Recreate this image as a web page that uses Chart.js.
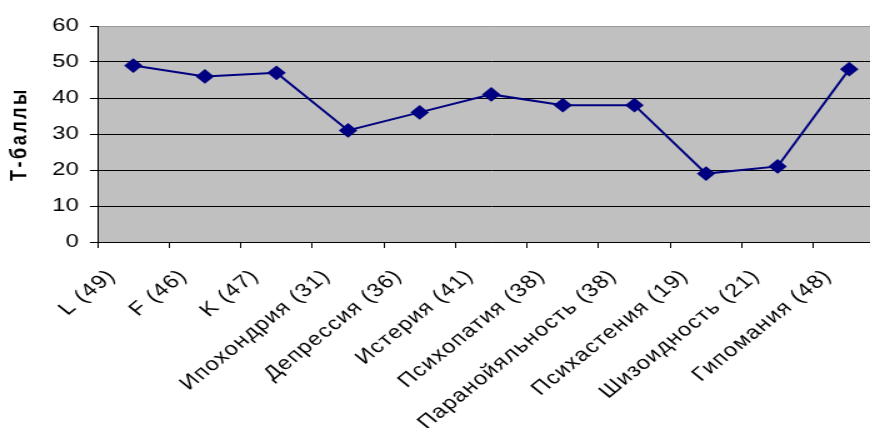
<!DOCTYPE html>
<html>
<head>
<meta charset="utf-8">
<script src="https://cdn.jsdelivr.net/npm/chart.js@4"></script>
<style>
  html, body { margin: 0; padding: 0; background: #fff; overflow: hidden; }
  #wrap { width: 870px; height: 428px; overflow: hidden; }
  /* the original picture is an Excel chart stretched horizontally */
  #chart { display: block; transform: scaleX(1.25); transform-origin: 0 0; }
</style>
</head>
<body>
<div id="wrap"><canvas id="chart" width="716" height="428"></canvas></div>
<script>
// MMPI profile, T-scores
const categories = [
  "L (49)", "F (46)", "K (47)", "Ипохондрия (31)", "Депрессия (36)",
  "Истерия (41)", "Психопатия (38)", "Паранойяльность (38)",
  "Психастения (19)", "Шизоидность (21)", "Гипомания (48)"
];
const tScores = [49, 46, 47, 31, 36, 41, 38, 38, 19, 21, 48];
const yTicks = [0, 10, 20, 30, 40, 50, 60];

const FONT = "Liberation Sans, Arial, sans-serif";

const canvas = document.getElementById("chart");
const context = canvas.getContext("2d");

// a bit of extra letter spacing for the labels and the axis title
const plainFillText = context.fillText;
context.fillText = function (text, x, y, maxWidth) {
  const old = this.letterSpacing;
  if (this.font.indexOf("bold") !== -1) this.letterSpacing = "2.5px";
  else if (categories.includes(text)) this.letterSpacing = "1px";
  plainFillText.call(this, text, x, y);
  this.letterSpacing = old;
};

// gray plot background
const plotBackground = {
  id: "plotBackground",
  beforeDraw(chart) {
    const { ctx, chartArea } = chart;
    ctx.save();
    ctx.fillStyle = "#c0c0c0";
    ctx.fillRect(chartArea.left, chartArea.top, chartArea.right - chartArea.left, chartArea.bottom - chartArea.top);
    ctx.restore();
  }
};

new Chart(canvas, {
  type: "line",
  data: {
    labels: categories,
    datasets: [{
      data: tScores,
      borderColor: "#000080",
      backgroundColor: "#000080",
      borderWidth: 2,
      pointStyle: "rectRot",
      pointRadius: 6,
      pointHoverRadius: 6,
      tension: 0
    }]
  },
  options: {
    responsive: false,
    devicePixelRatio: 1,
    animation: false,
    layout: { padding: { top: 26, right: 0, left: 0, bottom: 0 } },
    plugins: {
      legend: { display: false },
      tooltip: { enabled: false }
    },
    scales: {
      x: {
        offset: true,
        afterFit(scale) { scale.height = 186; },
        grid: {
          drawOnChartArea: false,
          drawTicks: true,
          tickLength: 6,
          color: "#000",
          offset: true
        },
        border: { display: true, color: "#000", width: 1 },
        ticks: {
          color: "#000",
          autoSkip: false,
          minRotation: 45,
          maxRotation: 45,
          padding: 17,
          labelOffset: -17,
          font: { family: FONT, size: 19 }
        }
      },
      y: {
        min: 0,
        max: 60,
        afterFit(scale) { scale.width = 78; },
        afterBuildTicks(scale) { scale.ticks = yTicks.map(v => ({ value: v })); },
        grid: {
          color: ctx => (ctx.tick && ctx.tick.value === 60 ? "#9a9a9a" : "#000"),
          tickColor: "#000",
          tickLength: 6,
          drawTicks: true
        },
        border: { display: true, color: "#000", width: 1 },
        ticks: {
          color: "#000",
          padding: 9,
          font: { family: FONT, size: 19 }
        },
        title: {
          display: true,
          text: "Т-баллы",
          color: "#000",
          padding: { top: 5, bottom: 0 },
          font: { family: FONT, size: 18, weight: "bold" }
        }
      }
    }
  },
  plugins: [plotBackground]
});
</script>
</body>
</html>
